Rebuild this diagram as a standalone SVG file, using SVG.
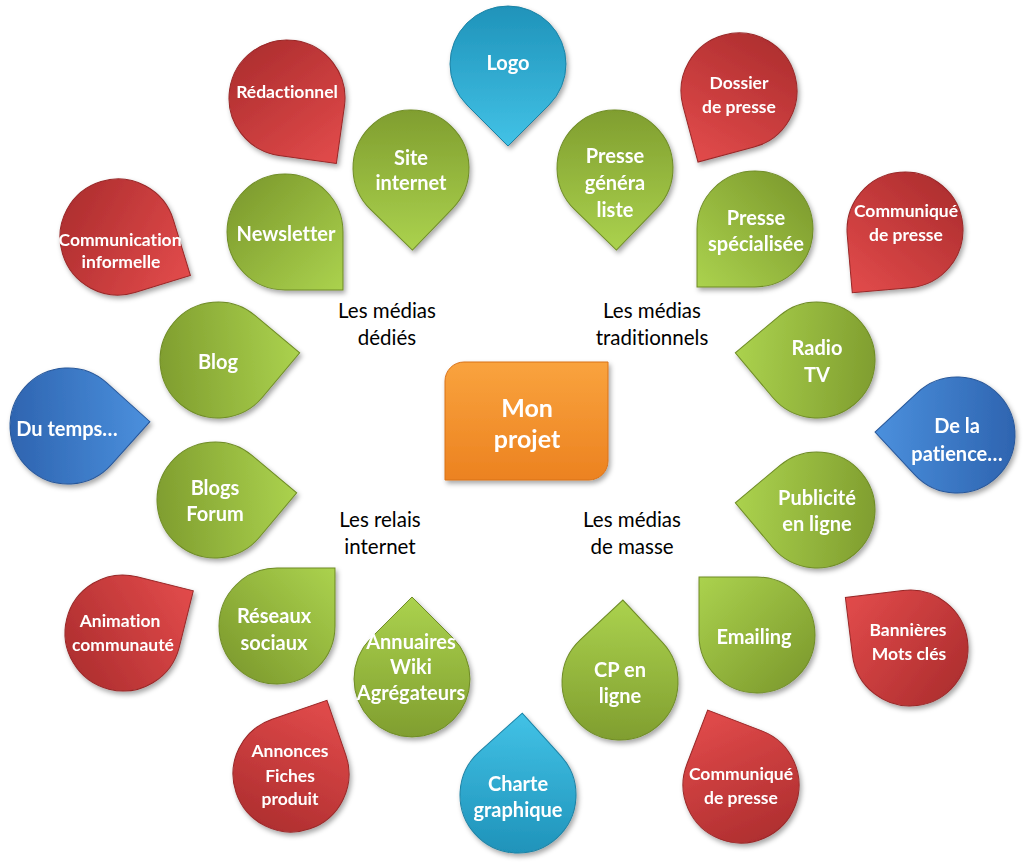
<svg xmlns="http://www.w3.org/2000/svg" xmlns:xlink="http://www.w3.org/1999/xlink" width="1024" height="866" viewBox="0 0 1024 866">
<defs>
<linearGradient id="gG" x1="0" y1="0" x2="1" y2="0"><stop offset="0" stop-color="#809e2f"/><stop offset="1" stop-color="#abd24e"/></linearGradient>
<linearGradient id="gR" x1="0" y1="0" x2="1" y2="0"><stop offset="0" stop-color="#b02f30"/><stop offset="1" stop-color="#e24b4b"/></linearGradient>
<linearGradient id="gB" x1="0" y1="0" x2="1" y2="0"><stop offset="0" stop-color="#2e64b0"/><stop offset="1" stop-color="#4b90dd"/></linearGradient>
<linearGradient id="gC" x1="0" y1="0" x2="1" y2="0"><stop offset="0" stop-color="#1f93ba"/><stop offset="1" stop-color="#42c2e6"/></linearGradient>
<linearGradient id="gO" x1="0" y1="0" x2="0" y2="1"><stop offset="0" stop-color="#f9a33e"/><stop offset="1" stop-color="#ec8220"/></linearGradient>
<filter id="sh" x="-20%" y="-20%" width="150%" height="150%"><feDropShadow dx="2" dy="3" stdDeviation="2.5" flood-color="#000" flood-opacity="0.35"/></filter>
<path id="drop" d="M41,-41 A58,58 0 1 0 41,41 L82,0 Z"/>
<style>
.g{fill:url(#gG);stroke:#6f8c26;stroke-width:1}
.r{fill:url(#gR);stroke:#992828;stroke-width:1}
.b{fill:url(#gB);stroke:#27579a;stroke-width:1}
.c{fill:url(#gC);stroke:#1b82a5;stroke-width:1}
.n{filter:url(#sh)}
text{font-family:Lato,"Open Sans","Liberation Sans",sans-serif;text-anchor:middle;dominant-baseline:central;font-variant-ligatures:none;font-feature-settings:"liga" 0,"dlig" 0}
.tg{fill:#fff;font-weight:bold;font-size:20px}
.tr{fill:#fff;font-weight:bold;font-size:17.5px}
.tm{fill:#fff;font-weight:bold;font-size:25px}
.lb{fill:#000;font-size:20.5px}
</style>
</defs>
<g id="connectors"/>
<g id="n-logo" class="n"><use href="#drop" class="c" transform="translate(508,64) rotate(90)"/><text class="tg" x="508" y="62">Logo</text></g>
<g id="n-redactionnel" class="n"><use href="#drop" class="r" transform="translate(287,98) rotate(53)"/><text class="tr" x="287" y="91">Rédactionnel</text></g>
<g id="n-site" class="n"><use href="#drop" class="g" transform="translate(411,168) rotate(89)"/><text class="tg" x="411" y="157">Site</text><text class="tg" x="411" y="182">internet</text></g>
<g id="n-newsletter" class="n"><use href="#drop" class="g" transform="translate(285,232) rotate(45)"/><text class="tg" x="286" y="233">Newsletter</text></g>
<g id="n-comminf" class="n"><use href="#drop" class="r" transform="translate(118,237) rotate(28)"/><text class="tr" x="120" y="239">Communication</text><text class="tr" x="121" y="261">informelle</text></g>
<g id="n-blog" class="n"><use href="#drop" class="g" transform="translate(218,360) rotate(-5)"/><text class="tg" x="218" y="361">Blog</text></g>
<g id="n-temps" class="n"><use href="#drop" class="b" transform="translate(68,426) rotate(-3)"/><text class="tg" x="67" y="428">Du temps…</text></g>
<g id="n-blogs" class="n"><use href="#drop" class="g" transform="translate(215,500) rotate(-5)"/><text class="tg" x="215" y="487">Blogs</text><text class="tg" x="215" y="513">Forum</text></g>
<g id="n-animation" class="n"><use href="#drop" class="r" transform="translate(123,633) rotate(-31)"/><text class="tr" x="120" y="620">Animation</text><text class="tr" x="123" y="644">communauté</text></g>
<g id="n-reseaux" class="n"><use href="#drop" class="g" transform="translate(277,626) rotate(-45)"/><text class="tg" x="274" y="615">Réseaux</text><text class="tg" x="274" y="642">sociaux</text></g>
<g id="n-annuaires" class="n"><use href="#drop" class="g" transform="translate(412,679) rotate(-90)"/><text class="tg" x="411" y="641">Annuaires</text><text class="tg" x="411" y="666">Wiki</text><text class="tg" x="411" y="692">Agrégateurs</text></g>
<g id="n-annonces" class="n"><use href="#drop" class="r" transform="translate(291,774) rotate(-64)"/><text class="tr" x="290" y="750">Annonces</text><text class="tr" x="290" y="775">Fiches</text><text class="tr" x="290" y="798">produit</text></g>
<g id="n-charte" class="n"><use href="#drop" class="c" transform="translate(518,795) rotate(-87)"/><text class="tg" x="518" y="783">Charte</text><text class="tg" x="518" y="809">graphique</text></g>
<g id="n-cp" class="n"><use href="#drop" class="g" transform="translate(620,682) rotate(-88)"/><text class="tg" x="620" y="669">CP en</text><text class="tg" x="620" y="695">ligne</text></g>
<g id="n-comm2" class="n"><use href="#drop" class="r" transform="translate(741,785) rotate(-114)"/><text class="tr" x="741" y="773">Communiqué</text><text class="tr" x="741" y="797">de presse</text></g>
<g id="n-emailing" class="n"><use href="#drop" class="g" transform="translate(757,635) rotate(-135)"/><text class="tg" x="754" y="636">Emailing</text></g>
<g id="n-bannieres" class="n"><use href="#drop" class="r" transform="translate(910,648) rotate(-142)"/><text class="tr" x="908" y="629">Bannières</text><text class="tr" x="909" y="653">Mots clés</text></g>
<g id="n-pub" class="n"><use href="#drop" class="g" transform="translate(817,510) rotate(185)"/><text class="tg" x="817" y="497">Publicité</text><text class="tg" x="817" y="523">en ligne</text></g>
<g id="n-patience" class="n"><use href="#drop" class="b" transform="translate(957,435) rotate(182)"/><text class="tg" x="957" y="425">De la</text><text class="tg" x="957" y="453">patience…</text></g>
<g id="n-radio" class="n"><use href="#drop" class="g" transform="translate(817,360) rotate(185)"/><text class="tg" x="817" y="347">Radio</text><text class="tg" x="817" y="374">TV</text></g>
<g id="n-comm1" class="n"><use href="#drop" class="r" transform="translate(905,230) rotate(130)"/><text class="tr" x="906" y="210">Communiqué</text><text class="tr" x="906" y="234">de presse</text></g>
<g id="n-pspec" class="n"><use href="#drop" class="g" transform="translate(755,229) rotate(135)"/><text class="tg" x="756" y="217">Presse</text><text class="tg" x="756" y="243">spécialisée</text></g>
<g id="n-pgen" class="n"><use href="#drop" class="g" transform="translate(615,168) rotate(89)"/><text class="tg" x="615" y="155">Presse</text><text class="tg" x="615" y="182">généra</text><text class="tg" x="615" y="209">liste</text></g>
<g id="n-dossier" class="n"><use href="#drop" class="r" transform="translate(739,91) rotate(120)"/><text class="tr" x="739" y="82">Dossier</text><text class="tr" x="739" y="106">de presse</text></g>
<g id="n-projet" class="n"><path d="M464,362 L608,362 L608,461 A19,19 0 0 1 589,480 L445,480 L445,381 A19,19 0 0 1 464,362 Z" fill="url(#gO)" stroke="#d9731a" stroke-width="1"/><text class="tm" x="527" y="407">Mon</text><text class="tm" x="527" y="438">projet</text></g>
<g id="labels">
<text class="lb" x="387" y="310">Les médias</text><text class="lb" x="387" y="337">dédiés</text>
<text class="lb" x="652" y="310">Les médias</text><text class="lb" x="652" y="337">traditionnels</text>
<text class="lb" x="380" y="519">Les relais</text><text class="lb" x="380" y="546">internet</text>
<text class="lb" x="632" y="519">Les médias</text><text class="lb" x="632" y="546">de masse</text>
</g>
</svg>
